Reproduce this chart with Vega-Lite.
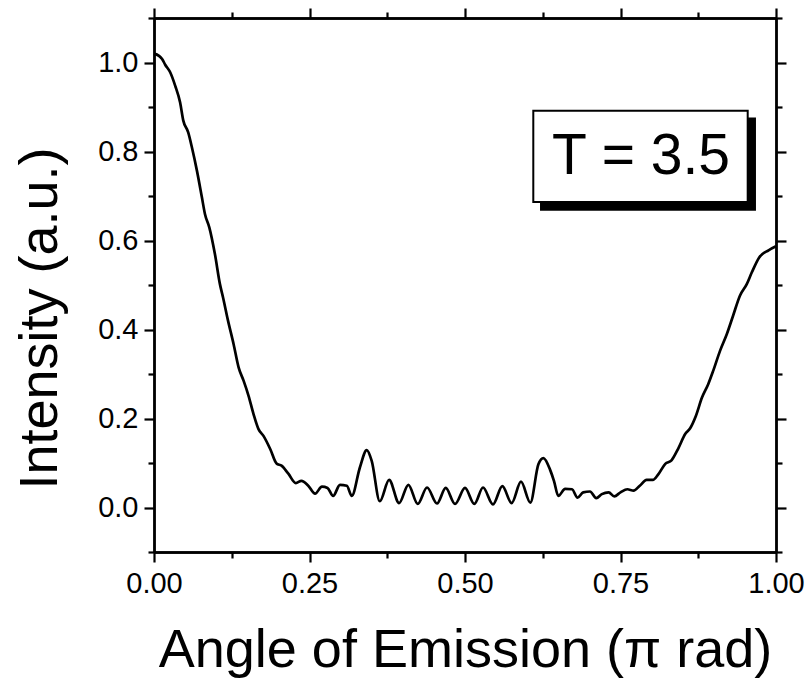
{
  "$schema": "https://vega.github.io/schema/vega-lite/v6.json",
  "width": 622,
  "height": 534,
  "autosize": {"type": "none"},
  "padding": {"left": 154, "top": 18, "right": 36, "bottom": 133},
  "background": "white",
  "config": {
    "view": {"stroke": null},
    "font": "Liberation Sans",
    "axis": {
      "grid": false,
      "domainColor": "black",
      "domainWidth": 2.4,
      "tickColor": "black",
      "tickWidth": 2.2,
      "labelColor": "black",
      "titleColor": "black",
      "labelFont": "Liberation Sans",
      "titleFont": "Liberation Sans",
      "titleFontWeight": "normal"
    }
  },
  "datasets": {
    "curve": [
      {"angle": 0.000, "intensity": 1.020},
      {"angle": 0.008, "intensity": 1.015},
      {"angle": 0.013, "intensity": 1.008},
      {"angle": 0.018, "intensity": 0.995},
      {"angle": 0.026, "intensity": 0.978},
      {"angle": 0.034, "intensity": 0.948},
      {"angle": 0.042, "intensity": 0.910},
      {"angle": 0.047, "intensity": 0.870},
      {"angle": 0.055, "intensity": 0.843},
      {"angle": 0.061, "intensity": 0.809},
      {"angle": 0.069, "intensity": 0.757},
      {"angle": 0.077, "intensity": 0.697},
      {"angle": 0.082, "intensity": 0.659},
      {"angle": 0.089, "intensity": 0.629},
      {"angle": 0.098, "intensity": 0.569},
      {"angle": 0.106, "intensity": 0.502},
      {"angle": 0.111, "intensity": 0.472},
      {"angle": 0.119, "intensity": 0.420},
      {"angle": 0.128, "intensity": 0.367},
      {"angle": 0.136, "intensity": 0.315},
      {"angle": 0.144, "intensity": 0.285},
      {"angle": 0.152, "intensity": 0.251},
      {"angle": 0.160, "intensity": 0.210},
      {"angle": 0.168, "intensity": 0.176},
      {"angle": 0.176, "intensity": 0.161},
      {"angle": 0.187, "intensity": 0.131},
      {"angle": 0.197, "intensity": 0.099},
      {"angle": 0.205, "intensity": 0.094},
      {"angle": 0.216, "intensity": 0.076},
      {"angle": 0.228, "intensity": 0.055},
      {"angle": 0.237, "intensity": 0.060},
      {"angle": 0.248, "intensity": 0.049},
      {"angle": 0.259, "intensity": 0.031},
      {"angle": 0.270, "intensity": 0.047},
      {"angle": 0.279, "intensity": 0.044},
      {"angle": 0.288, "intensity": 0.026},
      {"angle": 0.299, "intensity": 0.051},
      {"angle": 0.310, "intensity": 0.049},
      {"angle": 0.318, "intensity": 0.026},
      {"angle": 0.331, "intensity": 0.090},
      {"angle": 0.342, "intensity": 0.129},
      {"angle": 0.350, "intensity": 0.105},
      {"angle": 0.363, "intensity": 0.014},
      {"angle": 0.378, "intensity": 0.062},
      {"angle": 0.394, "intensity": 0.010},
      {"angle": 0.409, "intensity": 0.051},
      {"angle": 0.424, "intensity": 0.008},
      {"angle": 0.439, "intensity": 0.045},
      {"angle": 0.455, "intensity": 0.009},
      {"angle": 0.469, "intensity": 0.044},
      {"angle": 0.484, "intensity": 0.008},
      {"angle": 0.500, "intensity": 0.044},
      {"angle": 0.515, "intensity": 0.008},
      {"angle": 0.529, "intensity": 0.045},
      {"angle": 0.545, "intensity": 0.007},
      {"angle": 0.560, "intensity": 0.048},
      {"angle": 0.575, "intensity": 0.010},
      {"angle": 0.590, "intensity": 0.058},
      {"angle": 0.605, "intensity": 0.011},
      {"angle": 0.618, "intensity": 0.097},
      {"angle": 0.626, "intensity": 0.111},
      {"angle": 0.637, "intensity": 0.084},
      {"angle": 0.643, "intensity": 0.060},
      {"angle": 0.650, "intensity": 0.026},
      {"angle": 0.661, "intensity": 0.042},
      {"angle": 0.672, "intensity": 0.041},
      {"angle": 0.681, "intensity": 0.022},
      {"angle": 0.690, "intensity": 0.034},
      {"angle": 0.701, "intensity": 0.036},
      {"angle": 0.711, "intensity": 0.021},
      {"angle": 0.720, "intensity": 0.030},
      {"angle": 0.731, "intensity": 0.034},
      {"angle": 0.740, "intensity": 0.025},
      {"angle": 0.750, "intensity": 0.034},
      {"angle": 0.761, "intensity": 0.041},
      {"angle": 0.771, "intensity": 0.038},
      {"angle": 0.781, "intensity": 0.049},
      {"angle": 0.792, "intensity": 0.062},
      {"angle": 0.802, "intensity": 0.062},
      {"angle": 0.811, "intensity": 0.075},
      {"angle": 0.822, "intensity": 0.098},
      {"angle": 0.832, "intensity": 0.106},
      {"angle": 0.843, "intensity": 0.133},
      {"angle": 0.854, "intensity": 0.165},
      {"angle": 0.862, "intensity": 0.178},
      {"angle": 0.871, "intensity": 0.205},
      {"angle": 0.881, "intensity": 0.247},
      {"angle": 0.891, "intensity": 0.277},
      {"angle": 0.899, "intensity": 0.307},
      {"angle": 0.910, "intensity": 0.352},
      {"angle": 0.921, "intensity": 0.390},
      {"angle": 0.931, "intensity": 0.431},
      {"angle": 0.942, "intensity": 0.476},
      {"angle": 0.953, "intensity": 0.502},
      {"angle": 0.961, "intensity": 0.528},
      {"angle": 0.973, "intensity": 0.562},
      {"angle": 0.988, "intensity": 0.578},
      {"angle": 1.000, "intensity": 0.587}
    ],
    "shadow": [{"x1": 0.6206, "x2": 0.9678, "y1": 0.6667, "y2": 0.8764}],
    "box": [{"x1": 0.6098, "x2": 0.9545, "y1": 0.6865, "y2": 0.8915}],
    "label": [{"x": 0.783, "y": 0.749, "text": "T = 3.5"}]
  },
  "resolve": {"axis": {"x": "independent", "y": "independent"}},
  "layer": [
    {
      "data": {"name": "curve"},
      "mark": {"type": "line", "color": "black", "strokeWidth": 2.7, "interpolate": "monotone"},
      "encoding": {
        "x": {
          "field": "angle", "type": "quantitative",
          "scale": {"domain": [0, 1], "nice": false, "zero": false},
          "axis": {
            "orient": "bottom",
            "values": [0, 0.25, 0.5, 0.75, 1.0],
            "format": ".2f",
            "tickSize": 10,
            "labelFontSize": 29,
            "labelPadding": 7,
            "labelFlush": false,
            "title": "Angle of Emission (π rad)",
            "titleFontSize": 54,
            "titlePadding": 25
          }
        },
        "y": {
          "field": "intensity", "type": "quantitative",
          "scale": {"domain": [-0.1, 1.1], "nice": false, "zero": false},
          "axis": {
            "orient": "left",
            "values": [0, 0.2, 0.4, 0.6, 0.8, 1.0],
            "format": ".1f",
            "tickSize": 10,
            "labelFontSize": 29,
            "labelPadding": 6,
            "labelFlush": false,
            "title": "Intensity (a.u.)",
            "titleFontSize": 54,
            "titleAngle": -90,
            "titleAlign": "center",
            "titleBaseline": "alphabetic",
            "titleX": -98,
            "titleY": 300
          }
        }
      }
    },
    {
      "data": {"name": "curve"},
      "mark": {"type": "point", "opacity": 0},
      "encoding": {
        "x": {
          "field": "angle", "type": "quantitative",
          "axis": {"orient": "top", "values": [0, 0.25, 0.5, 0.75, 1.0], "labels": false, "tickSize": 10, "title": null}
        },
        "y": {
          "field": "intensity", "type": "quantitative",
          "axis": {"orient": "right", "values": [0, 0.2, 0.4, 0.6, 0.8, 1.0], "labels": false, "tickSize": 10, "title": null}
        }
      }
    },
    {
      "data": {"name": "curve"},
      "mark": {"type": "point", "opacity": 0},
      "encoding": {
        "x": {
          "field": "angle", "type": "quantitative",
          "axis": {"orient": "bottom", "values": [0.125, 0.375, 0.625, 0.875], "labels": false, "tickSize": 6, "title": null}
        },
        "y": {
          "field": "intensity", "type": "quantitative",
          "axis": {"orient": "left", "values": [-0.1, 0.1, 0.3, 0.5, 0.7, 0.9, 1.1], "labels": false, "tickSize": 6, "title": null}
        }
      }
    },
    {
      "data": {"name": "curve"},
      "mark": {"type": "point", "opacity": 0},
      "encoding": {
        "x": {
          "field": "angle", "type": "quantitative",
          "axis": {"orient": "top", "values": [0.125, 0.375, 0.625, 0.875], "labels": false, "tickSize": 6, "title": null}
        },
        "y": {
          "field": "intensity", "type": "quantitative",
          "axis": {"orient": "right", "values": [-0.1, 0.1, 0.3, 0.5, 0.7, 0.9, 1.1], "labels": false, "tickSize": 6, "title": null}
        }
      }
    },
    {
      "data": {"name": "shadow"},
      "mark": {"type": "rect", "color": "black"},
      "encoding": {
        "x": {"field": "x1", "type": "quantitative", "axis": null},
        "x2": {"field": "x2"},
        "y": {"field": "y1", "type": "quantitative", "axis": null},
        "y2": {"field": "y2"}
      }
    },
    {
      "data": {"name": "box"},
      "mark": {"type": "rect", "fill": "white", "stroke": "black", "strokeWidth": 2},
      "encoding": {
        "x": {"field": "x1", "type": "quantitative", "axis": null},
        "x2": {"field": "x2"},
        "y": {"field": "y1", "type": "quantitative", "axis": null},
        "y2": {"field": "y2"}
      }
    },
    {
      "data": {"name": "label"},
      "mark": {"type": "text", "fontSize": 57, "align": "center", "baseline": "alphabetic", "color": "black", "font": "Liberation Sans"},
      "encoding": {
        "x": {"field": "x", "type": "quantitative", "axis": null},
        "y": {"field": "y", "type": "quantitative", "axis": null},
        "text": {"field": "text"}
      }
    }
  ]
}
